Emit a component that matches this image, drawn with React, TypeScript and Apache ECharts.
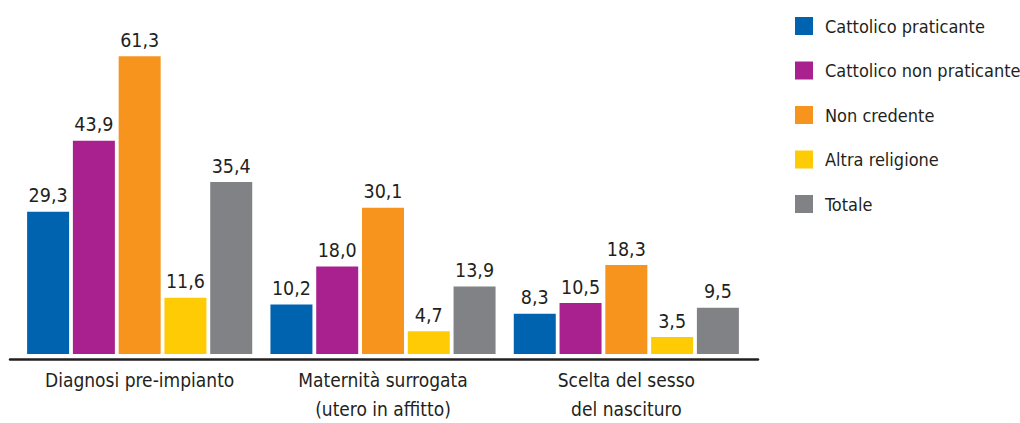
import React, { useEffect, useRef } from "react";
import * as echarts from "echarts";

const categories = [
  "Diagnosi pre-impianto",
  "Maternità surrogata\n(utero in affitto)",
  "Scelta del sesso\ndel nascituro",
];
const seriesNames = [
  "Cattolico praticante",
  "Cattolico non praticante",
  "Non credente",
  "Altra religione",
  "Totale",
];
const cattolicoPraticante = [29.3, 10.2, 8.3];
const cattolicoNonPraticante = [43.9, 18.0, 10.5];
const nonCredente = [61.3, 30.1, 18.3];
const altraReligione = [11.6, 4.7, 3.5];
const totale = [35.4, 13.9, 9.5];
const colors = ["#0063B0", "#A8218E", "#F7941D", "#FFCB05", "#808285"];

const FONT = "'DejaVu Sans Condensed', 'Liberation Sans Narrow', sans-serif";
const TEXT = "#231F20";

export default function App() {
  const ref = useRef<HTMLDivElement>(null);
  useEffect(() => {
    document.body.style.margin = "0";
    if (!ref.current) return;
    const chart = echarts.init(ref.current, undefined, { renderer: "svg" });
    const values = [
      cattolicoPraticante,
      cattolicoNonPraticante,
      nonCredente,
      altraReligione,
      totale,
    ];
    chart.setOption({
      animation: false,
      textStyle: { fontFamily: FONT },
      legend: {
        orient: "vertical",
        left: 795,
        top: 17,
        padding: 0,
        itemWidth: 18,
        itemHeight: 18,
        itemGap: 26.5,
        icon: "rect",
        data: seriesNames,
        textStyle: {
          fontFamily: FONT,
          fontSize: 18,
          color: TEXT,
          padding: [0, 0, 0, 7],
        },
      },
      grid: [
        { left: 18, width: 730, top: 14, height: 345.5 },
        { left: 10, width: 748, top: 14, height: 345.5 },
      ],
      xAxis: [
        {
          type: "category",
          gridIndex: 0,
          data: categories,
          axisLine: { show: false },
          axisTick: { show: false },
          axisLabel: {
            fontFamily: FONT,
            fontSize: 19,
            color: TEXT,
            lineHeight: 29,
            margin: 11,
            interval: 0,
          },
        },
        {
          type: "value",
          gridIndex: 1,
          min: 0,
          max: 1,
          axisLine: { show: true, lineStyle: { color: TEXT, width: 2.5 } },
          axisTick: { show: false },
          axisLabel: { show: false },
          splitLine: { show: false },
          z: 10,
        },
      ],
      yAxis: [
        { type: "value", gridIndex: 0, min: 0, max: 70, show: false, splitLine: { show: false } },
        { type: "value", gridIndex: 1, min: 0, max: 70, show: false, splitLine: { show: false } },
      ],
      series: seriesNames.map((name, i) => ({
        name,
        type: "bar",
        xAxisIndex: 0,
        yAxisIndex: 0,
        data: values[i],
        barWidth: 42,
        barGap: "9%",
        itemStyle: { color: colors[i] },
        label: {
          show: true,
          position: "top",
          distance: 6,
          fontFamily: FONT,
          fontSize: 19.5,
          color: TEXT,
          formatter: (p: any) => Number(p.value).toFixed(1).replace(".", ","),
        },
      })),
    });
    return () => chart.dispose();
  }, []);
  return <div ref={ref} style={{ width: 1020, height: 423 }} />;
}
